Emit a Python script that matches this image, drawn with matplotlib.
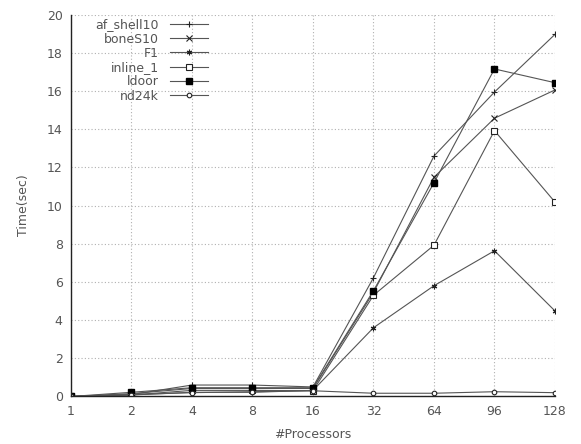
import numpy as np
import matplotlib
matplotlib.use("Agg")
import matplotlib.pyplot as plt

# processor counts (plotted as evenly spaced categories)
procs = ["1", "2", "4", "8", "16", "32", "64", "96", "128"]

af_shell10 = [0.0, 0.10, 0.60, 0.60, 0.50, 6.22, 12.59, 15.94, 18.96]
boneS10 = [0.0, 0.15, 0.42, 0.42, 0.42, 5.45, 11.48, 14.57, 16.05]
F1 = [0.0, 0.08, 0.22, 0.22, 0.32, 3.60, 5.80, 7.63, 4.48]
inline_1 = [0.0, 0.08, 0.32, 0.32, 0.30, 5.30, 7.92, 13.92, 10.18]
ldoor = [0.0, 0.22, 0.46, 0.46, 0.46, 5.54, 11.19, 17.15, 16.43]
nd24k = [0.0, 0.10, 0.20, 0.25, 0.30, 0.17, 0.17, 0.25, 0.20]

series = [
    ("af_shell10", af_shell10, dict(marker="+", ms=5, mfc="#222", mec="#222", mew=0.8)),
    ("boneS10", boneS10, dict(marker="x", ms=3.8, mfc="#222", mec="#222", mew=0.8)),
    ("F1", F1, dict(marker=(6, 2, 0), ms=4, mfc="#222", mec="#222", mew=0.8)),
    ("inline_1", inline_1, dict(marker="s", ms=4, mfc="white", mec="#222", mew=0.8)),
    ("ldoor", ldoor, dict(marker="s", ms=4.3, mfc="black", mec="black")),
    ("nd24k", nd24k, dict(marker="o", ms=3.3, mfc="white", mec="#222", mew=0.8)),
]

fig = plt.figure(figsize=(5.81, 4.44), dpi=100)
ax = fig.add_axes([0.1222, 0.107, 0.8330, 0.8603])

x = np.arange(len(procs))
for name, vals, style in series:
    ax.plot(x, vals, color="#555555", lw=0.8, label=name, **style)

ax.set_xlim(0, len(procs) - 1)
ax.set_ylim(0, 20)
ax.set_xticks(x)
ax.set_xticklabels(procs)
ax.set_yticks(np.arange(0, 21, 2))

ax.grid(True, linestyle=(0, (1, 2)), color="#b0b0b0", lw=0.8)
ax.set_axisbelow(True)
for side in ("top", "right"):
    ax.spines[side].set_visible(False)
for side in ("left", "bottom"):
    ax.spines[side].set_color("#222222")
    ax.spines[side].set_linewidth(1.0)

ax.tick_params(length=0, labelsize=9, labelcolor="#555555", pad=6)
ax.set_xlabel("#Processors", fontsize=9, color="#555555", labelpad=7)
ax.set_ylabel("Time(sec)", fontsize=9, color="#555555", labelpad=12)

leg = ax.legend(loc="upper left", bbox_to_anchor=(0.043, 1.0), frameon=False,
                markerfirst=False, fontsize=9, handlelength=3.0,
                labelspacing=0.1, handletextpad=0.9,
                borderaxespad=0.0, borderpad=0.3)
for t in leg.get_texts():
    t.set_color("#555555")

fig.savefig("out.png", dpi=100)
